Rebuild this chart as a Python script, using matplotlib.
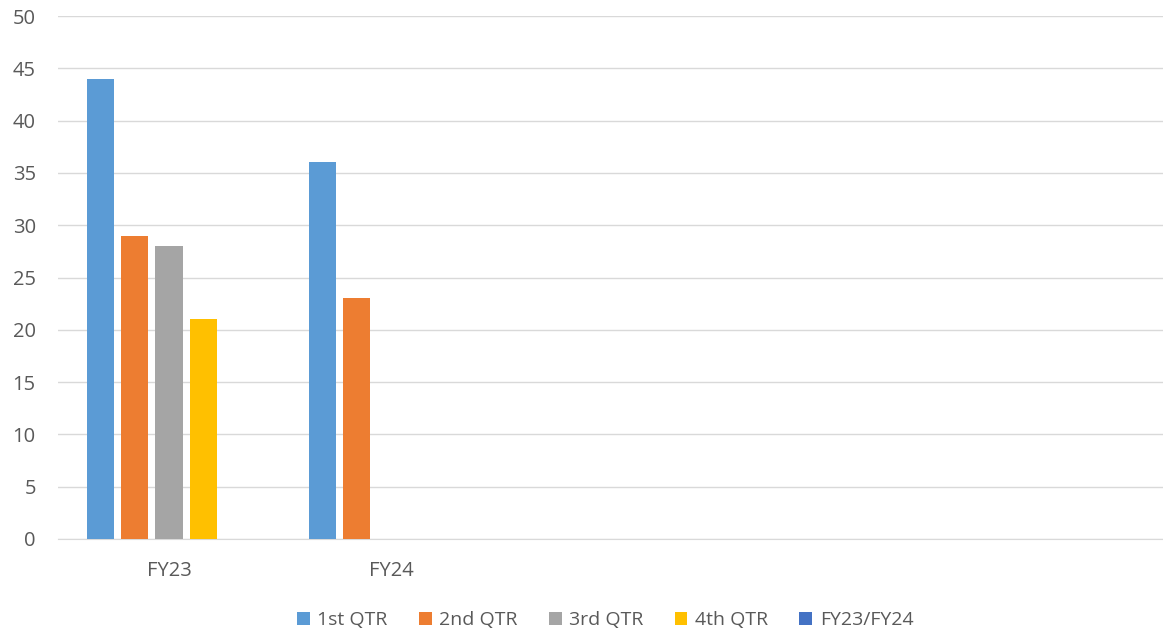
import numpy as np
import matplotlib
matplotlib.use('Agg')
import matplotlib.pyplot as plt

# 데이터
categories = ['FY23', 'FY24', '', '', '']
series_names = ['1st QTR', '2nd QTR', '3rd QTR', '4th QTR', 'FY23/FY24']
q1 = [44, 36, np.nan, np.nan, np.nan]
q2 = [29, 23, np.nan, np.nan, np.nan]
q3 = [28, np.nan, np.nan, np.nan, np.nan]
q4 = [21, np.nan, np.nan, np.nan, np.nan]
fy = [np.nan, np.nan, np.nan, np.nan, np.nan]
colors = ['#5B9BD5', '#ED7D31', '#A5A5A5', '#FFC000', '#4472C4']

plt.rcParams['font.family'] = ['Open Sans', 'DejaVu Sans']

fig = plt.figure(figsize=(11.63, 6.35), dpi=100)
ax = fig.add_axes([58 / 1163, 96 / 635, 1110 / 1163, 523 / 635])

x = np.arange(len(categories))
width = 0.122
step = 0.154
for i, (name, vals) in enumerate(zip(series_names, [q1, q2, q3, q4, fy])):
    ax.bar(x + (i - 2) * step, vals, width, color=colors[i], label=name, zorder=3)

ax.set_xlim(-0.5, len(categories) - 0.5)
ax.set_ylim(0, 50)
ax.set_yticks(range(0, 51, 5))
ax.set_xticks(x)
ax.set_xticklabels(categories)
ax.grid(axis='y', color='#D9D9D9', linewidth=1, zorder=0)
for s in ['top', 'right', 'left']:
    ax.spines[s].set_visible(False)
ax.spines['bottom'].set_color('#D9D9D9')
ax.tick_params(axis='both', length=0, colors='#595959', labelsize=14.5)
ax.tick_params(axis='y', pad=16)
ax.tick_params(axis='x', pad=16)

ax.legend(loc='upper center', bbox_to_anchor=(0.493, -0.105), ncol=5, frameon=False,
          fontsize=14, labelcolor='#595959', handlelength=0.65, handleheight=0.65,
          handletextpad=0.4, columnspacing=1.6)

plt.savefig('out.png', dpi=100)
